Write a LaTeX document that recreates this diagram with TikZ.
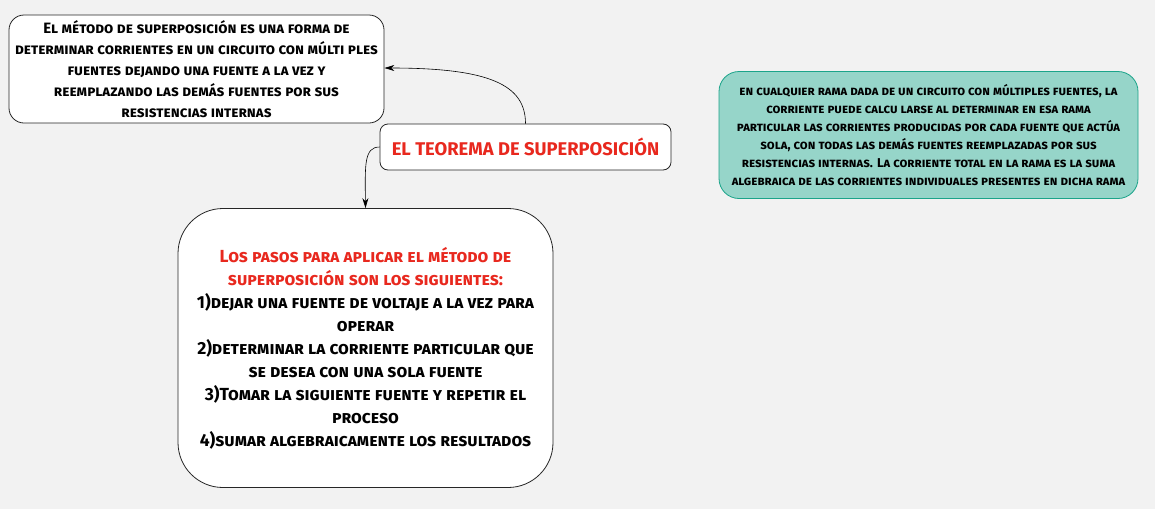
\documentclass[tikz,border=0pt]{standalone}
\usepackage{fontspec}
\setmainfont{Fira Sans}
\usetikzlibrary{arrows.meta}
\definecolor{fondo}{HTML}{F2F2F2}
\definecolor{rojo}{HTML}{E8281E}
\definecolor{verde}{HTML}{1BA48A}
\definecolor{verdeclaro}{HTML}{96D5C9}
\tikzset{
 caja/.style={draw=black!85,thick,fill=white,align=center,inner sep=0pt},
 nota/.style={font=\bfseries\scshape\fontsize{15}{21}\selectfont},
 flecha/.style={-{Stealth[length=10pt,width=6pt]},semithick}
}
\begin{document}
\begin{tikzpicture}[x=1pt,y=-1pt]
 \fill[fondo] (0,0) rectangle (1155,509);
 \useasboundingbox (0,0) rectangle (1155,509);
 % nodos
 \node[caja,nota,rounded corners=15pt,minimum width=375pt,minimum height=108pt] (metodo) at (196.5,69)
  {El método de superposición es una forma de\\
   determinar corrientes en un circuito con múlti ples\\
   fuentes dejando una fuente a la vez y\\
   reemplazando las demás fuentes por sus\\
   resistencias internas};
 \node[caja,rounded corners=8pt,minimum width=291pt,minimum height=46pt,
  font=\bfseries\scshape\fontsize{18.4}{20}\selectfont,text=rojo] (tema) at (525.5,147)
  {EL TEOREMA DE SUPERPOSICIÓN};
 \node[caja,draw=verde,fill=verdeclaro,rounded corners=20pt,minimum width=419pt,minimum height=127pt,
  font=\bfseries\scshape\fontsize{12.8}{18}\selectfont] (definicion) at (928.5,135)
  {en cualquier rama dada de un circuito con múltiples fuentes, la\\
   corriente puede calcu larse al determinar en esa rama\\
   particular las corrientes producidas por cada fuente que actúa\\
   sola, con todas las demás fuentes reemplazadas por sus\\
   resistencias internas. La corriente total en la rama es la suma\\
   algebraica de las corrientes individuales presentes en dicha rama};
 \node[caja,rounded corners=45pt,minimum width=375pt,minimum height=279pt,
  font=\bfseries\scshape\fontsize{17.5}{23}\selectfont] (pasos) at (365.5,348)
  {\textcolor{rojo}{Los pasos para aplicar el método de}\\
   \textcolor{rojo}{superposición son los siguientes:}\\
   1)dejar una fuente de voltaje a la vez para\\
   operar\\
   2)determinar la corriente particular que\\
   se desea con una sola fuente\\
   3)Tomar la siguiente fuente y repetir el\\
   proceso\\
   4)sumar algebraicamente los resultados};
 % conectores
 \draw[flecha] (tema.north) .. controls (525.5,85) and (490,68) .. (metodo.east |- 0,68);
 \draw[flecha] (tema.west) .. controls (364,147) and (365,165) .. (pasos.north);
\end{tikzpicture}
\end{document}
